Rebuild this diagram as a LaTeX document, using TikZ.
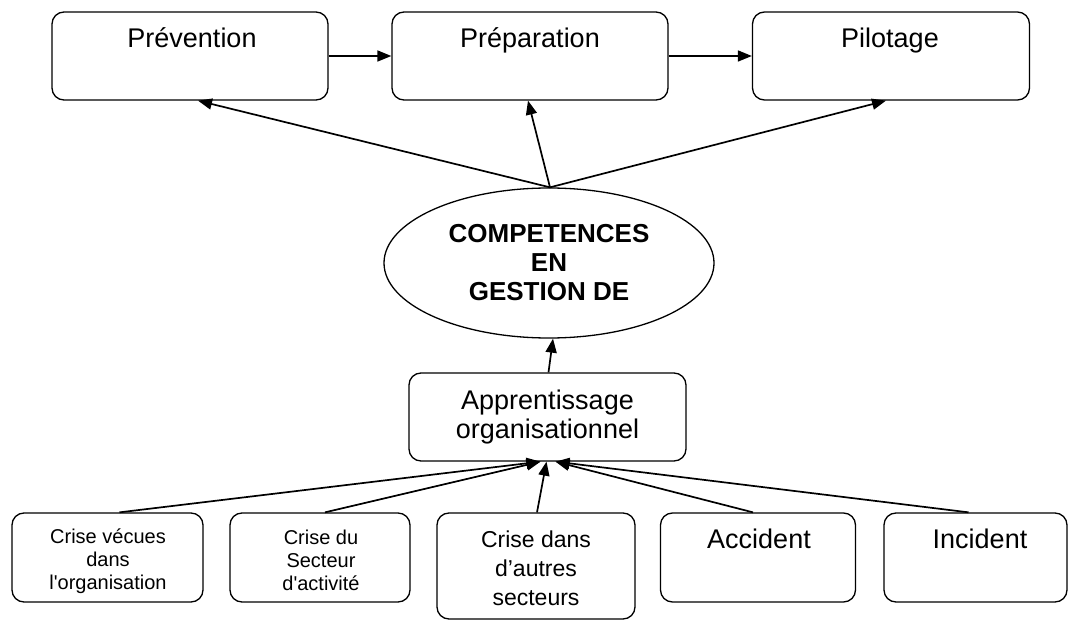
\documentclass[tikz,border=0pt]{standalone}
\usepackage{fontspec}
\setmainfont{Liberation Sans}
\usetikzlibrary{arrows.meta,shapes.geometric,calc}
\begin{document}
\begin{tikzpicture}[x=1pt,y=-1pt,
  box/.style={draw, rounded corners=12pt, line width=1.3pt, inner sep=0pt},
  arr/.style={-{Triangle[length=14pt,width=11pt]}, line width=1.7pt},
  bigtxt/.style={font=\fontsize{27}{29}\selectfont, inner sep=0pt},
  midtxt/.style={font=\fontsize{23}{29}\selectfont, inner sep=0pt, align=center},
  smltxt/.style={font=\fontsize{20}{23}\selectfont, inner sep=0pt, align=center}]
\fill[white] (0,0) rectangle (1069,620);
\useasboundingbox (0,0) rectangle (1069,620);

% top boxes
\node[box, minimum width=276pt, minimum height=88pt] (prev) at (190,56) {};
\node[box, minimum width=276pt, minimum height=88pt] (prep) at (530,56) {};
\node[box, minimum width=277pt, minimum height=88pt] (pilo) at (891,56) {};
\node[bigtxt, anchor=base] (tprev) at (192,48) {Prévention};
\node[bigtxt, anchor=base] (tprep) at (530,48) {Préparation};
\node[bigtxt, anchor=base] (tpilo) at (890,48) {Pilotage};

% ellipse
\node[draw, ellipse, line width=1.3pt, inner sep=0pt, minimum width=330pt, minimum height=150pt,
      align=center, font=\bfseries\fontsize{26}{29}\selectfont] (ell) at (549,263)
      {COMPETENCES\\EN\\GESTION DE};

% apprentissage
\node[box, minimum width=277pt, minimum height=88pt, align=center,
      font=\fontsize{27}{29}\selectfont] (app) at (547.5,417)
      {Apprentissage\\organisationnel};

% bottom boxes
\node[box, minimum width=191pt, minimum height=89pt] (b1) at (107.5,557.5) {};
\node[box, minimum width=180pt, minimum height=89pt] (b2) at (320,557.5) {};
\node[box, minimum width=198pt, minimum height=106pt] (b3) at (536,566) {};
\node[box, minimum width=195pt, minimum height=89pt] (b4) at (758,557.5) {};
\node[box, minimum width=183pt, minimum height=89pt] (b5) at (975.5,557.5) {};
\node[smltxt] (t1) at (108,561) {Crise vécues\\dans\\l\textquotesingle organisation};
\node[smltxt] (t2) at (321,560) {Crise du\\Secteur\\d\textquotesingle activité};
\node[midtxt] (t3) at (536,568) {Crise dans\\d’autres\\secteurs};
\node[bigtxt, anchor=base] (t4) at (759,548) {Accident};
\node[bigtxt, anchor=base] (t5) at (980,548) {Incident};

% connectors
\draw[arr] (prev.east) -- (prep.west);
\draw[arr] (prep.east) -- (pilo.west);
\draw[arr] ($(ell.north)+(1,0)$) -- ($(prev.south)+(8,0)$);
\draw[arr] ($(ell.north)+(1,0)$) -- ($(prep.south)+(-2,0)$);
\draw[arr] ($(ell.north)+(1,0)$) -- ($(pilo.south)+(-5,0)$);
\draw[arr] ($(app.north)+(1,0)$) -- ($(ell.south)+(4,0)$);
\draw[arr] ($(b1.north)+(12,0)$) -- ($(app.south)+(-7,0)$);
\draw[arr] ($(b2.north)+(5,0)$) -- ($(app.south)+(-7,0)$);
\draw[arr] ($(b3.north)+(1,0)$) -- ($(app.south)+(-1,0)$);
\draw[arr] ($(b4.north)+(-5,0)$) -- ($(app.south)+(8,0)$);
\draw[arr] ($(b5.north)+(-7,0)$) -- ($(app.south)+(8,0)$);
\end{tikzpicture}
\end{document}
